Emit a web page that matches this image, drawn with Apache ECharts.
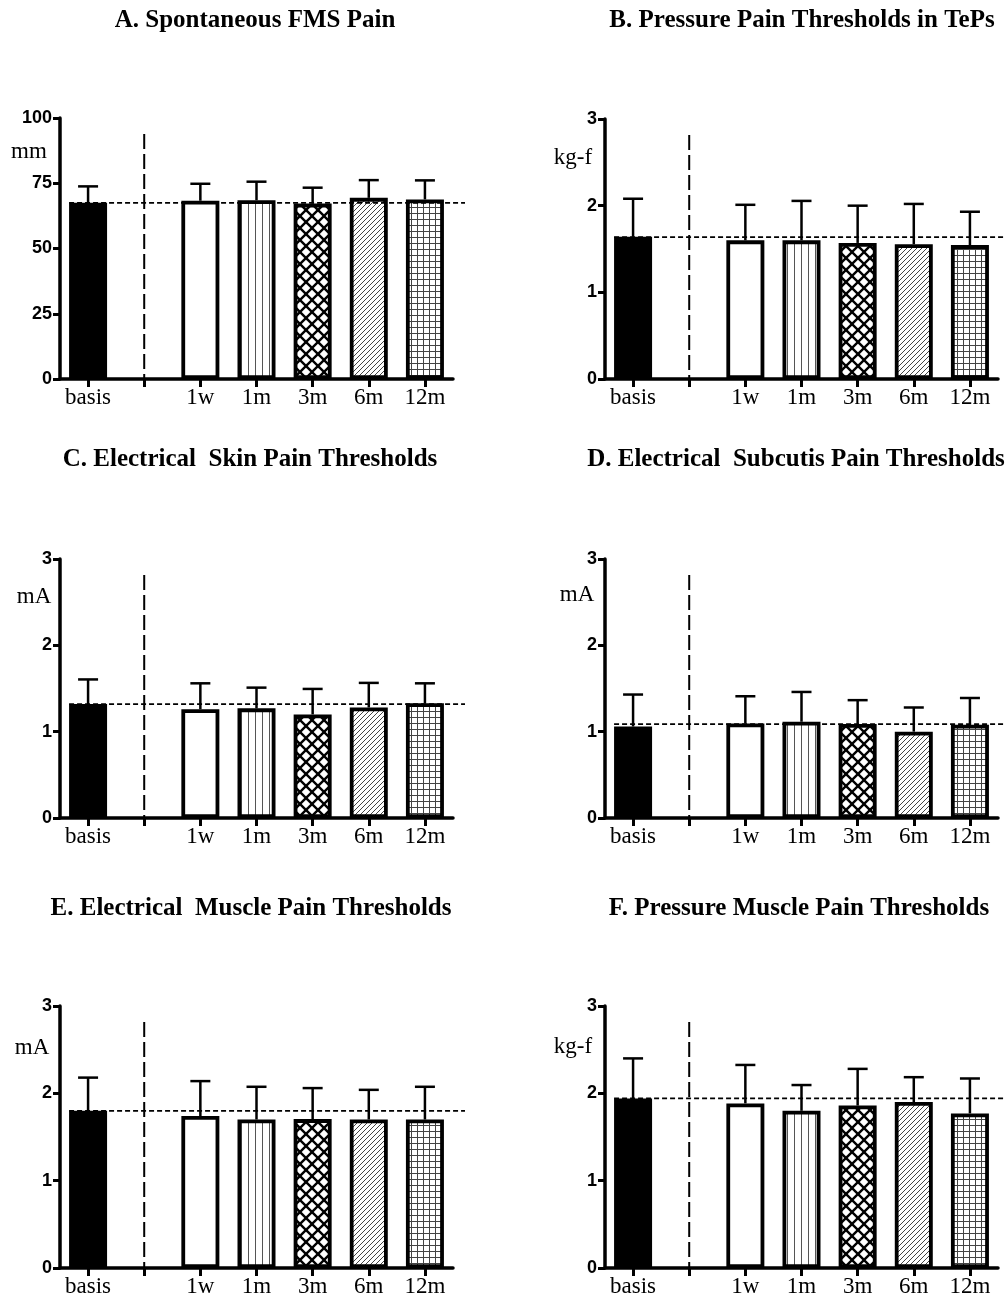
<!DOCTYPE html>
<html><head><meta charset="utf-8">
<script src="https://cdn.jsdelivr.net/npm/echarts@6/dist/echarts.min.js"></script>
<style>html,body{margin:0;padding:0;background:#fff}#c{width:1005px;height:1298px}</style>
</head><body><div id="c"></div>
<script>
// ---- data ----
const categories = ['basis', '', '1w', '1m', '3m', '6m', '12m'];
const titles = [
  'A. Spontaneous FMS Pain',
  'B. Pressure Pain Thresholds in TePs',
  'C. Electrical  Skin Pain Thresholds',
  'D. Electrical  Subcutis Pain Thresholds',
  'E. Electrical  Muscle Pain Thresholds',
  'F. Pressure Muscle Pain Thresholds'
];
const units = ['mm', 'kg-f', 'mA', 'mA', 'mA', 'kg-f'];
const yMax = [100, 3, 3, 3, 3, 3];
const yInterval = [25, 1, 1, 1, 1, 1];

const meanA = [67.5, null, 68.3, 68.5, 67.2, 69.4, 68.8];
const sdA   = [6.3,  null, 6.5,  7.1,  6.1,  6.8,  7.3];
const meanB = [1.64, null, 1.60, 1.60, 1.57, 1.555, 1.545];
const sdB   = [0.44, null, 0.41, 0.455, 0.43, 0.465, 0.385];
const meanC = [1.32, null, 1.26, 1.27, 1.20, 1.28, 1.33];
const sdC   = [0.285, null, 0.30, 0.24, 0.295, 0.285, 0.23];
const meanD = [1.06, null, 1.095, 1.115, 1.09, 1.00, 1.08];
const sdD   = [0.37, null, 0.315, 0.345, 0.275, 0.28, 0.31];
const meanE = [1.80, null, 1.74, 1.70, 1.705, 1.70, 1.70];
const sdE   = [0.38, null, 0.40, 0.375, 0.355, 0.34, 0.375];
const meanF = [1.94, null, 1.885, 1.80, 1.86, 1.90, 1.77];
const sdF   = [0.46, null, 0.44, 0.295, 0.42, 0.285, 0.40];
const refLine = [67.5, 1.636, 1.32, 1.087, 1.80, 1.943];

const means = [meanA, meanB, meanC, meanD, meanE, meanF];
const sds = [sdA, sdB, sdC, sdD, sdE, sdF];

// ---- layout / style ----
const gridLeft = [60, 605, 60, 605, 60, 605];
const gridTop = [118, 119, 559, 559, 1006, 1006];
const gridHeight = [261, 260, 259, 259, 262, 262];
const gridWidth = 393;
const titlePos = [[255, 21], [802, 21], [250, 460], [796, 460], [251, 909], [799, 909]];
const unitPos = [[29, 152], [573, 158], [34, 597], [577, 595], [32, 1048], [573, 1047]];

function tile(w, h, draw) {
  const c = document.createElement('canvas');
  c.width = w; c.height = h;
  const g = c.getContext('2d');
  g.fillStyle = '#fff'; g.fillRect(0, 0, w, h);
  draw(g, w, h);
  return { image: c, repeat: 'repeat' };
}
const patVert = tile(7, 7, (g) => { g.fillStyle = '#555'; g.fillRect(3, 0, 1, 7); });
const patCross = tile(12, 12, (g) => {
  g.strokeStyle = '#000'; g.lineWidth = 2.4;
  for (const o of [-12, 0, 12]) {
    g.beginPath(); g.moveTo(o, 0); g.lineTo(o + 12, 12); g.stroke();
    g.beginPath(); g.moveTo(o + 12, 0); g.lineTo(o, 12); g.stroke();
  }
});
const patDiag = tile(5, 5, (g) => {
  g.strokeStyle = '#444'; g.lineWidth = 1;
  for (const o of [-5, 0, 5]) { g.beginPath(); g.moveTo(o, 5); g.lineTo(o + 5, 0); g.stroke(); }
});
const patGrid = tile(6, 6, (g) => { g.fillStyle = '#444'; g.fillRect(3, 0, 1, 6); g.fillRect(0, 3, 6, 1); });
const fills = ['#000', '#fff', '#fff', patVert, patCross, patDiag, patGrid];

const serif = '"Liberation Serif", "Times New Roman", serif';
const sans = '"Liberation Sans", Arial, sans-serif';

const grids = [], xAxes = [], yAxes = [], series = [], graphics = [];
for (let i = 0; i < 6; i++) {
  grids.push({ left: gridLeft[i], top: gridTop[i], width: gridWidth, height: gridHeight[i], containLabel: false, outerBoundsMode: 'none' });
  xAxes.push({
    type: 'category', gridIndex: i, data: categories, boundaryGap: true,
    axisLine: { show: true, lineStyle: { color: '#000', width: 3.5 } },
    axisTick: { show: true, alignWithLabel: true, length: 8, lineStyle: { color: '#000', width: 3 } },
    axisLabel: { show: true, interval: 0, margin: 7, color: '#000', fontFamily: serif, fontSize: 23 },
    splitLine: { show: false }
  });
  yAxes.push({
    type: 'value', gridIndex: i, min: 0, max: yMax[i], interval: yInterval[i],
    axisLine: { show: true, lineStyle: { color: '#000', width: 3.5 } },
    axisTick: { show: true, length: 7, lineStyle: { color: '#000', width: 3 } },
    axisLabel: { show: true, margin: 8, color: '#000', fontFamily: sans, fontWeight: 'bold', fontSize: 18 },
    splitLine: { show: false }
  });
  const m = means[i], s = sds[i];
  series.push({
    type: 'bar', xAxisIndex: i, yAxisIndex: i, barWidth: 38, silent: true,
    itemStyle: { borderColor: '#000', borderWidth: 3.8 },
    data: m.map((v, k) => v == null ? '-' : { value: v, itemStyle: { color: fills[k] } }),
    z: 2
  });
  series.push({
    type: 'custom', xAxisIndex: i, yAxisIndex: i, silent: true, z: 3,
    data: m.map((v, k) => v == null ? null : [k, v, s[k]]).filter(d => d),
    encode: { x: 0, y: 1 },
    renderItem: function (params, api) {
      const x = api.value(0), v = api.value(1), e = api.value(2);
      const p0 = api.coord([x, v]), p1 = api.coord([x, v + e]);
      const st = { stroke: '#000', lineWidth: 2.5, fill: null };
      return { type: 'group', children: [
        { type: 'line', shape: { x1: p0[0], y1: p0[1], x2: p1[0], y2: p1[1] }, style: st },
        { type: 'line', shape: { x1: p1[0] - 10, y1: p1[1], x2: p1[0] + 10, y2: p1[1] }, style: st }
      ] };
    }
  });
  series.push({
    type: 'custom', xAxisIndex: i, yAxisIndex: i, silent: true, z: 4, clip: false,
    data: [[1, refLine[i]]],
    encode: { x: 0, y: 1 },
    renderItem: function (params, api) {
      const cs = params.coordSys;
      const r = api.coord([0, api.value(1)]);
      const sep = api.coord([1, 0]);
      return { type: 'group', children: [
        { type: 'line', shape: { x1: r[0] - 19, y1: r[1], x2: cs.x + cs.width + 12, y2: r[1] },
          style: { stroke: '#000', lineWidth: 1.8, lineDash: [5, 3], fill: null } },
        { type: 'line', shape: { x1: sep[0], y1: cs.y + 16, x2: sep[0], y2: cs.y + cs.height },
          style: { stroke: '#000', lineWidth: 2, lineDash: [15, 5], fill: null } }
      ] };
    }
  });
  graphics.push({ type: 'text', x: titlePos[i][0], y: titlePos[i][1],
    style: { text: titles[i], font: 'bold 25px ' + serif, fill: '#000', align: 'center', verticalAlign: 'middle', textAlign: 'center', textVerticalAlign: 'middle' } });
  graphics.push({ type: 'text', x: unitPos[i][0], y: unitPos[i][1],
    style: { text: units[i], font: '23px ' + serif, fill: '#000', align: 'center', verticalAlign: 'middle', textAlign: 'center', textVerticalAlign: 'middle' } });
}

const chart = echarts.init(document.getElementById('c'), null, { renderer: 'canvas' });
chart.setOption({
  backgroundColor: '#fff',
  animation: false,
  grid: grids, xAxis: xAxes, yAxis: yAxes, series: series,
  graphic: graphics
});
</script>
</body></html>
